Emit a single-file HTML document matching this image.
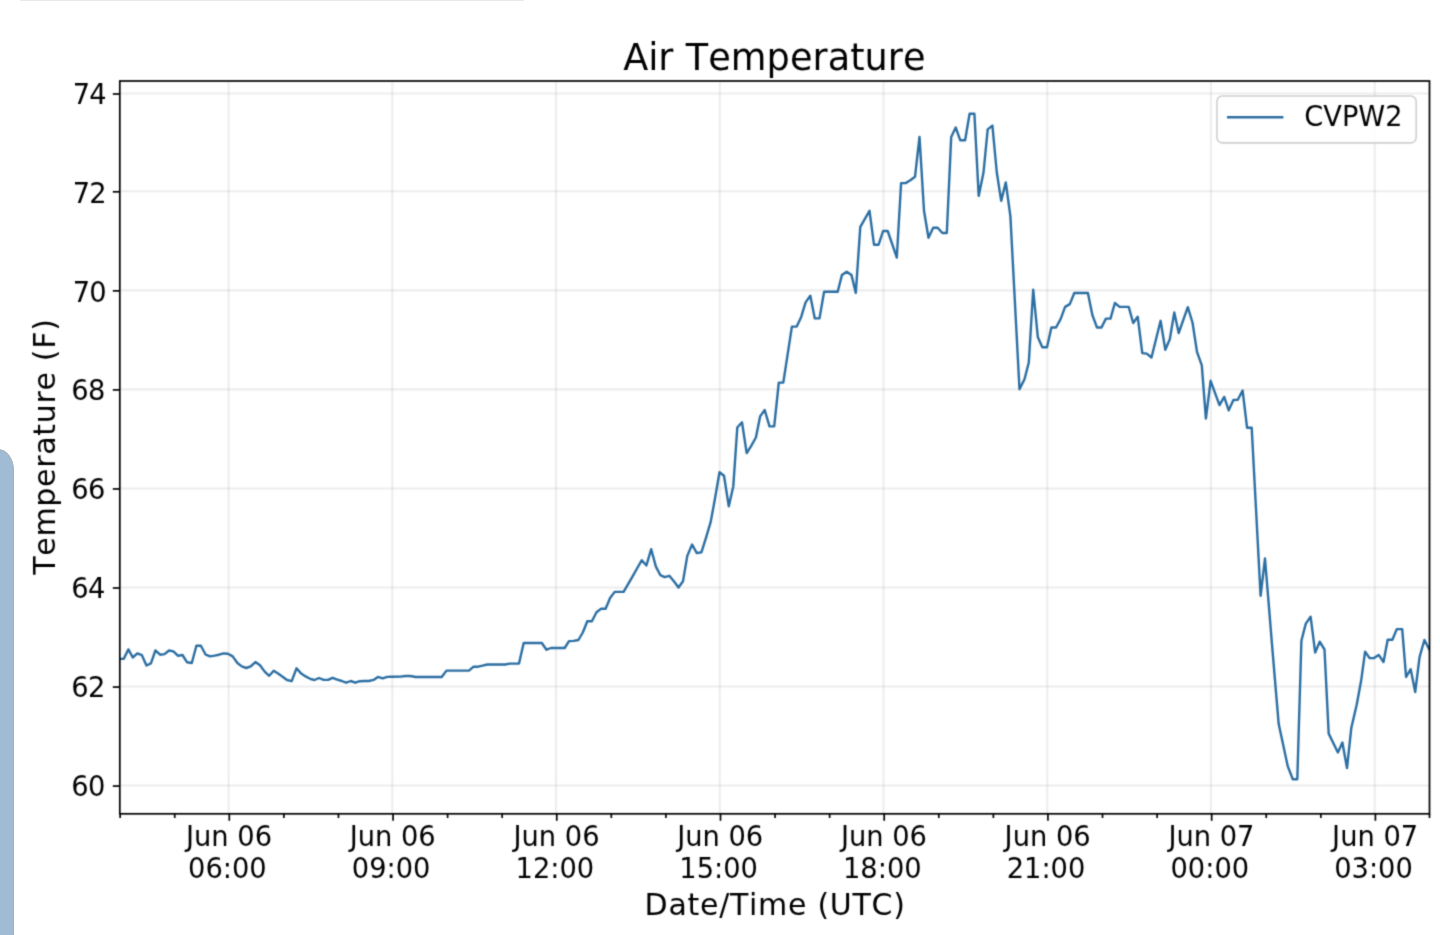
<!DOCTYPE html>
<html lang="en"><head><meta charset="utf-8"><title>Air Temperature</title>
<style>html,body{margin:0;padding:0;background:#fff;overflow:hidden}body{width:1440px;height:935px;position:relative;font-family:'DejaVu Sans','Liberation Sans',sans-serif}#side{position:absolute;left:-30px;top:448.6px;width:41.5px;height:520px;background:#a0bbd4;border:1.1px solid #a9afb6;border-radius:0 16px 0 0 / 0 21px 0 0;box-sizing:content-box}#topbar{position:absolute;left:20px;top:0;width:504.4px;height:1px;background:#e9e9e9}svg{position:absolute;left:0;top:0;will-change:transform;filter:url(#bl)}text{font-family:'DejaVu Sans','Liberation Sans',sans-serif;fill:#000;font-kerning:none;font-feature-settings:"kern" 0}</style></head><body>
<div id="topbar"></div><div id="side"></div>
<svg width="1440" height="935" viewBox="0 0 1440 935">
<filter id="bl" x="0" y="0" width="1440" height="935" filterUnits="userSpaceOnUse" color-interpolation-filters="sRGB"><feConvolveMatrix order="3" kernelMatrix="0.02768 0.11101 0.02768 0.11101 0.44521 0.11101 0.02768 0.11101 0.02768" divisor="1" edgeMode="duplicate" preserveAlpha="false"/></filter>
<g stroke="#b0b0b0" stroke-opacity="0.23" stroke-width="2.1"><line x1="119.8" x2="1429.5" y1="785.55" y2="785.55"/><line x1="119.8" x2="1429.5" y1="686.55" y2="686.55"/><line x1="119.8" x2="1429.5" y1="587.50" y2="587.50"/><line x1="119.8" x2="1429.5" y1="488.45" y2="488.45"/><line x1="119.8" x2="1429.5" y1="389.40" y2="389.40"/><line x1="119.8" x2="1429.5" y1="290.35" y2="290.35"/><line x1="119.8" x2="1429.5" y1="191.30" y2="191.30"/><line x1="119.8" x2="1429.5" y1="93.50" y2="93.50"/><line x1="228.60" x2="228.60" y1="81.0" y2="813.8"/><line x1="392.33" x2="392.33" y1="81.0" y2="813.8"/><line x1="556.06" x2="556.06" y1="81.0" y2="813.8"/><line x1="719.79" x2="719.79" y1="81.0" y2="813.8"/><line x1="883.51" x2="883.51" y1="81.0" y2="813.8"/><line x1="1047.24" x2="1047.24" y1="81.0" y2="813.8"/><line x1="1210.97" x2="1210.97" y1="81.0" y2="813.8"/><line x1="1374.70" x2="1374.70" y1="81.0" y2="813.8"/></g>
<clipPath id="c"><rect x="119.8" y="81.0" width="1309.7" height="732.8"/></clipPath>
<path clip-path="url(#c)" d="M118.3,658.9 L123.7,658.9 L128.4,649.4 L132.8,657.5 L137.3,653.4 L141.9,655.2 L146.5,665.5 L150.9,663.4 L155.4,650.5 L160.1,654.7 L164.5,654.1 L169.0,650.5 L173.4,651.4 L178.1,655.8 L182.5,655.0 L187.1,662.3 L191.8,663.0 L196.4,645.8 L200.9,645.8 L205.7,654.7 L210.1,656.4 L214.6,655.6 L219.0,654.7 L223.5,653.4 L227.9,653.8 L232.7,656.4 L237.4,663.0 L241.8,666.4 L246.3,668.0 L250.7,666.4 L255.4,662.1 L260.0,665.3 L264.7,671.6 L269.2,675.8 L273.7,670.8 L278.1,673.6 L282.6,676.7 L287.0,680.0 L291.7,681.2 L296.5,668.3 L301.2,673.6 L305.6,676.4 L310.1,678.8 L314.5,680.0 L319.0,678.0 L323.6,679.9 L328.1,679.9 L332.6,677.8 L337.3,679.7 L341.8,681.0 L346.2,682.7 L350.7,681.0 L355.3,682.7 L359.8,681.2 L364.4,681.0 L368.8,681.0 L373.5,679.9 L377.9,676.9 L382.6,678.3 L387.2,676.9 L391.8,676.7 L400.7,676.6 L405.4,676.0 L410.0,676.0 L414.7,676.7 L415.0,677.0 L441.7,677.0 L446.5,670.6 L469.0,670.6 L473.6,666.7 L478.1,666.7 L482.6,665.6 L487.3,664.5 L505.1,664.5 L509.8,663.6 L519.0,663.6 L523.7,643.0 L541.8,643.0 L546.5,649.7 L551.0,648.0 L564.7,648.0 L569.0,641.1 L573.7,640.9 L578.4,640.0 L582.8,632.5 L587.3,621.2 L591.9,621.2 L596.5,612.3 L601.2,608.6 L605.6,608.8 L610.1,598.0 L614.7,591.9 L623.6,591.9 L628.1,584.1 L632.6,576.3 L637.3,568.0 L641.8,560.2 L646.4,565.5 L651.2,549.2 L655.9,566.6 L660.4,575.2 L664.6,577.2 L669.3,575.8 L673.7,581.0 L678.5,587.5 L683.0,581.3 L687.3,555.9 L692.1,544.5 L696.8,553.1 L701.4,552.3 L705.9,538.1 L710.7,521.9 L715.1,498.0 L719.5,472.2 L724.0,475.8 L728.8,506.3 L733.3,486.2 L737.3,427.5 L742.0,422.3 L746.7,453.1 L751.2,445.8 L755.9,437.5 L760.1,416.4 L764.7,410.0 L769.5,426.4 L774.2,426.4 L778.8,382.6 L783.3,382.6 L791.9,326.6 L796.7,326.6 L801.2,316.9 L805.6,302.4 L810.3,295.8 L814.8,318.4 L819.5,318.4 L824.1,291.7 L837.7,291.7 L841.9,275.1 L846.7,271.8 L851.5,275.1 L855.8,292.9 L860.3,226.9 L869.5,210.8 L874.0,244.7 L878.6,244.7 L883.1,231.0 L887.7,231.0 L896.8,257.5 L901.1,183.1 L905.6,183.1 L910.3,180.3 L915.0,176.8 L919.5,136.9 L924.0,210.8 L928.5,237.8 L933.2,227.7 L937.6,227.7 L942.4,233.0 L946.8,233.0 L951.2,136.9 L955.7,127.5 L960.3,140.3 L965.1,140.3 L969.6,113.8 L974.4,113.8 L978.7,195.9 L983.5,172.5 L987.7,129.4 L992.4,125.6 L996.8,172.5 L1001.2,200.9 L1005.8,182.4 L1010.4,216.4 L1019.5,389.2 L1024.5,379.2 L1028.8,362.5 L1033.2,289.7 L1037.8,336.9 L1042.3,347.2 L1047.0,347.2 L1051.4,327.5 L1056.0,327.5 L1060.6,319.1 L1065.1,306.9 L1069.8,304.1 L1074.3,293.0 L1087.9,293.0 L1092.4,315.2 L1097.0,327.5 L1101.5,327.5 L1105.9,318.6 L1110.5,318.6 L1114.9,303.0 L1119.6,306.9 L1128.7,306.9 L1133.2,323.0 L1137.7,316.7 L1142.3,353.1 L1146.8,353.6 L1151.5,357.5 L1160.6,320.8 L1165.3,349.7 L1169.8,339.2 L1174.3,312.4 L1178.7,333.0 L1187.8,307.2 L1192.5,322.5 L1197.0,351.9 L1201.8,365.3 L1205.9,418.6 L1210.6,380.8 L1219.5,405.2 L1224.2,396.9 L1228.7,410.3 L1233.4,400.0 L1237.8,399.7 L1242.6,390.5 L1247.1,427.8 L1251.7,427.8 L1260.6,595.8 L1265.0,558.5 L1272.8,654.2 L1278.7,724.1 L1287.8,766.4 L1292.8,779.2 L1297.3,779.2 L1301.4,640.8 L1305.8,623.6 L1310.6,616.7 L1315.2,652.6 L1319.7,641.7 L1324.5,649.5 L1328.7,733.6 L1337.9,752.5 L1342.4,742.5 L1347.0,768.1 L1351.3,728.0 L1356.8,704.2 L1361.2,680.3 L1365.1,651.6 L1369.6,658.1 L1374.0,658.1 L1378.7,654.9 L1383.5,662.0 L1387.7,639.7 L1392.4,639.7 L1396.8,629.1 L1402.2,629.1 L1406.1,677.0 L1410.7,669.2 L1415.2,692.0 L1419.6,656.9 L1424.4,640.0 L1431.0,652.7" fill="none" stroke="#2b6ea2" stroke-width="2.4" stroke-linejoin="round" stroke-linecap="butt"/>
<rect x="119.8" y="81.0" width="1309.7" height="732.8" fill="none" stroke="#000" stroke-width="1.7"/>
<g stroke="#000" stroke-width="1.7"><line x1="112.8" x2="119.8" y1="786.05" y2="786.05"/><line x1="112.8" x2="119.8" y1="687.05" y2="687.05"/><line x1="112.8" x2="119.8" y1="588.00" y2="588.00"/><line x1="112.8" x2="119.8" y1="488.95" y2="488.95"/><line x1="112.8" x2="119.8" y1="389.90" y2="389.90"/><line x1="112.8" x2="119.8" y1="290.85" y2="290.85"/><line x1="112.8" x2="119.8" y1="191.80" y2="191.80"/><line x1="112.8" x2="119.8" y1="94.00" y2="94.00"/><line x1="120.15" x2="120.15" y1="813.8" y2="818.0"/><line x1="174.72" x2="174.72" y1="813.8" y2="818.0"/><line x1="229.30" x2="229.30" y1="813.8" y2="820.8"/><line x1="283.88" x2="283.88" y1="813.8" y2="818.0"/><line x1="338.45" x2="338.45" y1="813.8" y2="818.0"/><line x1="393.03" x2="393.03" y1="813.8" y2="820.8"/><line x1="447.60" x2="447.60" y1="813.8" y2="818.0"/><line x1="502.18" x2="502.18" y1="813.8" y2="818.0"/><line x1="556.76" x2="556.76" y1="813.8" y2="820.8"/><line x1="611.33" x2="611.33" y1="813.8" y2="818.0"/><line x1="665.91" x2="665.91" y1="813.8" y2="818.0"/><line x1="720.49" x2="720.49" y1="813.8" y2="820.8"/><line x1="775.06" x2="775.06" y1="813.8" y2="818.0"/><line x1="829.64" x2="829.64" y1="813.8" y2="818.0"/><line x1="884.21" x2="884.21" y1="813.8" y2="820.8"/><line x1="938.79" x2="938.79" y1="813.8" y2="818.0"/><line x1="993.37" x2="993.37" y1="813.8" y2="818.0"/><line x1="1047.94" x2="1047.94" y1="813.8" y2="820.8"/><line x1="1102.52" x2="1102.52" y1="813.8" y2="818.0"/><line x1="1157.10" x2="1157.10" y1="813.8" y2="818.0"/><line x1="1211.67" x2="1211.67" y1="813.8" y2="820.8"/><line x1="1266.25" x2="1266.25" y1="813.8" y2="818.0"/><line x1="1320.82" x2="1320.82" y1="813.8" y2="818.0"/><line x1="1375.40" x2="1375.40" y1="813.8" y2="820.8"/><line x1="1429.50" x2="1429.50" y1="813.8" y2="818.0"/></g>
<text transform="translate(104.50,796.15) scale(1,1.048)" font-size="27.3" text-anchor="end" letter-spacing="-0.8">60</text>
<text transform="translate(104.50,697.15) scale(1,1.048)" font-size="27.3" text-anchor="end" letter-spacing="-0.8">62</text>
<text transform="translate(104.50,598.10) scale(1,1.048)" font-size="27.3" text-anchor="end" letter-spacing="-0.8">64</text>
<text transform="translate(104.50,499.05) scale(1,1.048)" font-size="27.3" text-anchor="end" letter-spacing="-0.8">66</text>
<text transform="translate(104.50,400.00) scale(1,1.048)" font-size="27.3" text-anchor="end" letter-spacing="-0.8">68</text>
<text transform="translate(105.80,301.85) scale(1,1.048)" font-size="27.3" text-anchor="end" letter-spacing="-0.8">70</text>
<text transform="translate(105.80,202.80) scale(1,1.048)" font-size="27.3" text-anchor="end" letter-spacing="-0.8">72</text>
<text transform="translate(105.80,104.10) scale(1,1.048)" font-size="27.3" text-anchor="end" letter-spacing="-0.8">74</text>
<text transform="translate(229.0,846.0) scale(1,1.048)" font-size="27.3" text-anchor="middle">Jun 06</text>
<text transform="translate(227.4,877.8) scale(1,1.048)" font-size="27.3" text-anchor="middle">06:00</text>
<text transform="translate(392.7,846.0) scale(1,1.048)" font-size="27.3" text-anchor="middle">Jun 06</text>
<text transform="translate(391.1,877.8) scale(1,1.048)" font-size="27.3" text-anchor="middle">09:00</text>
<text transform="translate(556.5,846.0) scale(1,1.048)" font-size="27.3" text-anchor="middle">Jun 06</text>
<text transform="translate(554.9,877.8) scale(1,1.048)" font-size="27.3" text-anchor="middle">12:00</text>
<text transform="translate(720.2,846.0) scale(1,1.048)" font-size="27.3" text-anchor="middle">Jun 06</text>
<text transform="translate(718.6,877.8) scale(1,1.048)" font-size="27.3" text-anchor="middle">15:00</text>
<text transform="translate(883.9,846.0) scale(1,1.048)" font-size="27.3" text-anchor="middle">Jun 06</text>
<text transform="translate(882.3,877.8) scale(1,1.048)" font-size="27.3" text-anchor="middle">18:00</text>
<text transform="translate(1047.6,846.0) scale(1,1.048)" font-size="27.3" text-anchor="middle">Jun 06</text>
<text transform="translate(1046.0,877.8) scale(1,1.048)" font-size="27.3" text-anchor="middle">21:00</text>
<text transform="translate(1211.4,846.0) scale(1,1.048)" font-size="27.3" text-anchor="middle">Jun 07</text>
<text transform="translate(1209.8,877.8) scale(1,1.048)" font-size="27.3" text-anchor="middle">00:00</text>
<text transform="translate(1375.1,846.0) scale(1,1.048)" font-size="27.3" text-anchor="middle">Jun 07</text>
<text transform="translate(1373.5,877.8) scale(1,1.048)" font-size="27.3" text-anchor="middle">03:00</text>
<text x="775.1" y="914.6" font-size="30.0" text-anchor="middle" letter-spacing="0.71">Date/Time (UTC)</text>
<text transform="translate(55.3,446.6) rotate(-90)" font-size="30.0" text-anchor="middle" letter-spacing="0.69">Temperature (F)</text>
<text transform="translate(0,69.6) scale(1,1.022)" font-size="36.66"><tspan x="623.3" letter-spacing="-0.2">Air </tspan><tspan x="685.8" letter-spacing="0.06">Temperature</tspan></text>
<rect x="1216.9" y="96" width="199.3" height="46.9" rx="5.5" ry="5.5" fill="#fff" fill-opacity="0.8" stroke="#d0d0d0" stroke-width="1.6"/>
<line x1="1227" x2="1283.4" y1="117.2" y2="117.2" stroke="#2b6ea2" stroke-width="2.4"/>
<text transform="translate(1304.3,126.3) scale(1,1.025)" font-size="27.2">CVPW2</text>
</svg></body></html>
